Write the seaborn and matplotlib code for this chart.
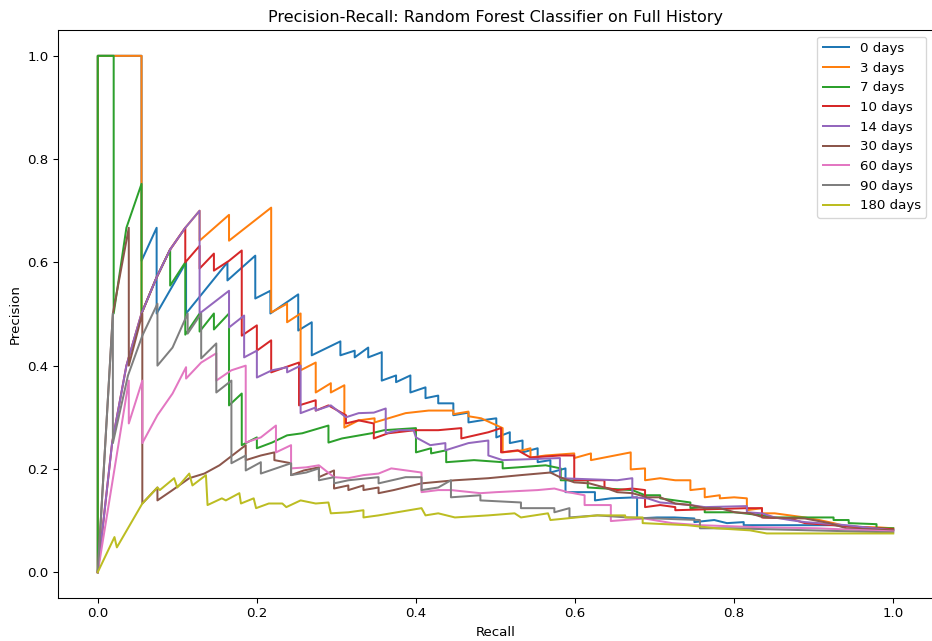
import matplotlib
matplotlib.use("Agg")
import matplotlib.pyplot as plt
import seaborn as sns

# ---------------------------------------------------
# precision / recall points
# ---------------------------------------------------
recall_0d = [0, 0, .055, .055, .074, .074, .111, .111, .163, .163, .198, .198, .217, .217,
             .252, .252, .269, .269, .305, .305, .323, .323, .340, .340, .357, .357, .375, .375,
             .393, .393, .412, .412, .428, .428, .447, .447, .466, .466, .482, .501, .501, .518,
             .518, .534, .534, .553, .553, .569, .569, .588, .588, .607, .625, .625, .645, .678,
             .678, .703, .725, .750, .750, .775, .791, .812, .812, .887, .925, .957, .979, 1.0]
precision_0d = [0, 1, 1, .603, .667, .501, .600, .501, .600, .565, .613, .530, .545, .501,
                .538, .468, .484, .420, .447, .420, .429, .416, .435, .416, .426, .371, .381, .368,
                .381, .348, .358, .337, .342, .327, .327, .304, .309, .290, .294, .298, .261, .271,
                .250, .255, .232, .240, .213, .217, .193, .201, .155, .155, .155, .139, .143, .145,
                .104, .106, .106, .104, .097, .101, .095, .097, .091, .091, .091, .087, .085, .081]

recall_3d = [0, 0, .055, .055, .074, .091, .110, .128, .128, .165, .165, .218, .218, .238,
             .238, .255, .255, .274, .274, .293, .293, .310, .310, .328, .348, .348, .387, .416,
             .437, .447, .447, .466, .466, .482, .509, .509, .534, .544, .544, .563, .599, .599,
             .620, .620, .670, .670, .688, .688, .707, .726, .745, .745, .763, .763, .782, .782,
             .800, .816, .816, .835, .835, .851, .870, .889, .907, .925, .941, .962, .979, 1.0]
precision_3d = [0, 1, 1, .501, .571, .625, .667, .700, .642, .692, .642, .706, .503, .520,
                .484, .501, .391, .406, .348, .366, .348, .362, .280, .294, .298, .290, .308, .313,
                .313, .313, .306, .311, .302, .298, .279, .232, .236, .240, .222, .226, .230, .221,
                .230, .217, .232, .199, .201, .178, .182, .178, .178, .159, .162, .145, .149, .143,
                .145, .143, .120, .124, .114, .114, .110, .106, .101, .095, .089, .087, .087, .085]

recall_7d = [0, 0, .020, .020, .036, .055, .055, .074, .091, .091, .110, .110, .128, .128,
             .146, .146, .165, .165, .181, .181, .200, .200, .219, .238, .257, .290, .290, .307,
             .344, .360, .400, .400, .419, .419, .438, .438, .473, .509, .509, .528, .563, .582,
             .582, .616, .616, .672, .688, .707, .707, .745, .745, .763, .763, .801, .835, .851,
             .889, .925, .925, .944, .944, .979, .979, 1.0]
precision_7d = [0, 1, 1, .501, .667, .752, .501, .571, .625, .555, .600, .460, .501, .466,
                .501, .470, .501, .323, .346, .246, .261, .240, .251, .265, .269, .284, .251, .259,
                .269, .275, .279, .232, .240, .230, .236, .213, .217, .213, .201, .203, .207, .201,
                .178, .178, .164, .159, .149, .149, .143, .135, .124, .126, .116, .116, .110, .106,
                .106, .106, .101, .101, .095, .093, .085, .085]

recall_10d = [0, .018, .036, .055, .074, .091, .110, .110, .128, .128, .146, .146, .165, .181,
              .181, .200, .200, .218, .218, .238, .253, .253, .274, .274, .290, .312, .312, .328,
              .347, .347, .365, .399, .428, .457, .457, .491, .507, .507, .528, .544, .581, .599,
              .599, .637, .637, .653, .672, .688, .688, .707, .726, .726, .816, .835, .835, .870,
              .889, .962, 1.0]
precision_10d = [0, .250, .400, .501, .571, .625, .667, .600, .632, .588, .617, .584, .603, .623,
                 .458, .478, .429, .449, .387, .398, .406, .323, .333, .313, .323, .304, .288, .294,
                 .288, .259, .269, .275, .275, .279, .259, .271, .279, .232, .236, .222, .226, .226,
                 .178, .178, .164, .159, .162, .159, .126, .130, .126, .120, .124, .124, .106, .104,
                 .095, .087, .083]

recall_14d = [0, .018, .036, .055, .074, .091, .110, .128, .128, .165, .165, .184, .184, .200,
              .200, .219, .238, .238, .255, .255, .274, .274, .293, .312, .328, .347, .362, .362,
              .378, .397, .400, .418, .437, .437, .466, .491, .491, .509, .581, .581, .653, .672,
              .672, .691, .707, .745, .763, .816, .816, .835, .851, .870, .889, .941, 1.0]
precision_14d = [0, .250, .400, .501, .571, .625, .667, .700, .501, .545, .474, .497, .416, .429,
                 .377, .391, .397, .387, .400, .308, .319, .313, .323, .300, .308, .309, .317, .269,
                 .275, .275, .261, .246, .250, .236, .250, .255, .226, .217, .221, .182, .178, .182,
                 .145, .143, .135, .130, .126, .128, .116, .114, .106, .101, .097, .091, .081]

recall_30d = [0, .019, .039, .039, .056, .056, .075, .075, .094, .115, .134, .153, .186, .186,
              .205, .222, .222, .243, .243, .259, .278, .278, .297, .297, .315, .315, .334, .334,
              .353, .353, .372, .407, .449, .491, .532, .569, .581, .599, .618, .637, .653, .672,
              .691, .707, .726, .745, .763, .782, .801, .820, .837, .889, .920, .941, 1.0]
precision_30d = [0, .501, .667, .400, .501, .133, .164, .139, .159, .182, .191, .207, .246, .217,
                 .226, .232, .217, .211, .188, .197, .203, .184, .197, .162, .168, .159, .168, .159,
                 .164, .153, .159, .172, .178, .182, .188, .193, .184, .174, .172, .164, .155, .153,
                 .145, .145, .133, .130, .124, .124, .116, .114, .106, .104, .095, .085, .081]

recall_60d = [0, .039, .039, .056, .056, .075, .094, .111, .111, .130, .149, .149, .168, .186,
              .186, .205, .224, .224, .243, .243, .262, .278, .297, .315, .334, .353, .369, .388,
              .407, .407, .428, .444, .481, .501, .553, .574, .591, .612, .612, .645, .645, .687,
              .722, .757, .832, .904, 1.0]
precision_60d = [0, .371, .288, .371, .250, .304, .346, .397, .375, .406, .424, .371, .391, .400,
                 .251, .261, .284, .232, .246, .201, .203, .207, .184, .182, .188, .191, .201, .197,
                 .193, .155, .159, .159, .153, .155, .159, .162, .155, .149, .130, .130, .099, .104,
                 .095, .091, .087, .085, .079]

recall_90d = [0, .019, .019, .038, .056, .075, .075, .094, .113, .113, .130, .130, .149, .149,
              .168, .168, .186, .186, .205, .205, .224, .243, .243, .262, .278, .278, .297, .297,
              .315, .353, .353, .387, .407, .407, .428, .444, .444, .481, .481, .532, .532, .574,
              .574, .593, .593, .628, .666, .757, .757, .795, 1.0]
precision_90d = [0, .501, .250, .381, .458, .520, .400, .435, .501, .462, .501, .414, .443, .348,
                 .371, .211, .226, .197, .213, .191, .201, .211, .188, .193, .201, .178, .184, .172,
                 .178, .184, .172, .184, .184, .159, .164, .178, .145, .149, .139, .135, .124, .124,
                 .116, .124, .106, .110, .106, .101, .085, .085, .077]

recall_180d = [0, .021, .024, .056, .075, .078, .096, .100, .115, .119, .136, .138, .156, .161,
               .178, .180, .196, .199, .215, .232, .237, .255, .274, .290, .293, .315, .334, .334,
               .353, .407, .412, .428, .449, .491, .524, .532, .566, .569, .628, .663, .663, .685,
               .685, .741, .778, .820, .841, 1.0]
precision_180d = [0, .068, .048, .133, .164, .159, .182, .164, .191, .168, .188, .130, .143, .139,
                  .153, .133, .143, .124, .133, .133, .126, .139, .133, .135, .114, .116, .120, .106,
                  .110, .124, .110, .114, .106, .110, .114, .106, .114, .101, .110, .110, .106, .106,
                  .095, .091, .085, .081, .075, .075]

series_labels = ["0 days", "3 days", "7 days", "10 days", "14 days",
                 "30 days", "60 days", "90 days", "180 days"]
recalls = [recall_0d, recall_3d, recall_7d, recall_10d, recall_14d,
           recall_30d, recall_60d, recall_90d, recall_180d]
precisions = [precision_0d, precision_3d, precision_7d, precision_10d, precision_14d,
              precision_30d, precision_60d, precision_90d, precision_180d]

# ---------------------------------------------------
# plot
# ---------------------------------------------------
palette = sns.color_palette("tab10", len(series_labels))

DPI = 96
fig = plt.figure(figsize=(932 / DPI, 641 / DPI), dpi=DPI)
ax = fig.add_axes([58 / 932, 43 / 641, 875 / 932, 568 / 641])

for label, r, p, color in zip(series_labels, recalls, precisions, palette):
    sns.lineplot(x=r, y=p, ax=ax, label=label, color=color,
                 sort=False, estimator=None, linewidth=1.5)

ax.set_title("Precision-Recall: Random Forest Classifier on Full History")
ax.set_xlabel("Recall")
ax.set_ylabel("Precision")
ax.set_xticks([0.0, 0.2, 0.4, 0.6, 0.8, 1.0])
ax.set_yticks([0.0, 0.2, 0.4, 0.6, 0.8, 1.0])
ax.legend(loc="upper right")

fig.savefig("out.png", dpi=DPI)
